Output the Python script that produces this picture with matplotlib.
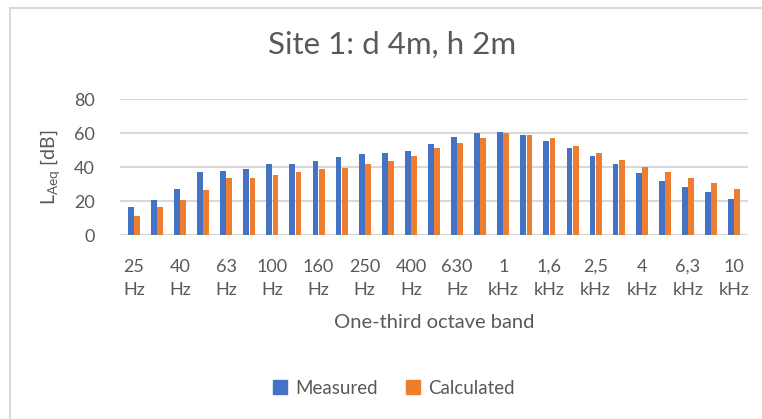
import matplotlib
matplotlib.use('Agg')
import matplotlib.pyplot as plt
import numpy as np
from matplotlib.lines import Line2D

plt.rcParams['font.family'] = ['Lato', 'DejaVu Sans']

# one-third octave bands 25 Hz .. 10 kHz
bands = ['25 Hz', '31,5 Hz', '40 Hz', '50 Hz', '63 Hz', '80 Hz', '100 Hz', '125 Hz',
         '160 Hz', '200 Hz', '250 Hz', '315 Hz', '400 Hz', '500 Hz', '630 Hz', '800 Hz',
         '1 kHz', '1,25 kHz', '1,6 kHz', '2 kHz', '2,5 kHz', '3,15 kHz', '4 kHz', '5 kHz',
         '6,3 kHz', '8 kHz', '10 kHz']
measured = [16.5, 20.8, 27.3, 36.8, 37.5, 38.9, 41.9, 41.9, 43.4, 45.8, 47.4, 48.4, 49.7,
            53.5, 57.4, 59.8, 60.5, 58.6, 55.2, 51.1, 46.4, 41.7, 36.4, 31.8, 28.1, 25.2, 21.0]
calculated = [11.0, 16.7, 20.4, 26.3, 33.4, 33.8, 35.0, 37.1, 38.7, 39.5, 41.5, 43.8, 46.4,
              51.1, 53.9, 56.8, 59.8, 58.8, 56.8, 52.3, 48.4, 44.2, 39.9, 37.1, 33.8, 30.3, 26.9]

blue = '#4472C4'
orange = '#ED7D31'
txt = '#595959'
grid = '#D9D9D9'

fig = plt.figure(figsize=(7.62, 4.19), dpi=100)
ax = fig.add_axes([120/762, 1-235/419, 628/762, 136/419])

x = np.arange(len(bands))
w = 0.25
ax.bar(x - w/2 - 0.01, measured, w, color=blue, zorder=3)
ax.bar(x + w/2 + 0.01, calculated, w, color=orange, zorder=3)

ax.set_xlim(-0.6, len(bands) - 0.4)
ax.set_ylim(0, 80)
ax.set_yticks([0, 20, 40, 60, 80])
ax.yaxis.grid(True, color=grid, linewidth=1.5, zorder=0)
for s in ax.spines.values():
    s.set_visible(False)
ax.axhline(0, color=grid, linewidth=1.5, zorder=1)
ax.tick_params(axis='both', length=0, labelsize=13, colors=txt)
ax.tick_params(axis='y', pad=18)

# label every other band, split value / unit on two lines
ticks = x[::2]
ax.set_xticks(ticks)
ax.set_xticklabels([b.replace(' ', '\n') for b in bands[::2]], linespacing=1.55)
ax.tick_params(axis='x', pad=17)

ax.set_xlabel('One-third octave band', fontsize=14.5, color=txt, labelpad=12)
ax.set_ylabel(r'$\mathregular{L_{Aeq}}$ [dB]', fontsize=14, color=txt)
ax.yaxis.set_label_coords(-58/628, 0.5)

fig.text(392/762, 1-45/419, 'Site 1: d 4m, h 2m', fontsize=22.5, color=txt,
         ha='center', va='center')

handles = [Line2D([], [], marker='s', linestyle='', markersize=10, color=blue),
           Line2D([], [], marker='s', linestyle='', markersize=10, color=orange)]
fig.legend(handles, ['Measured', 'Calculated'], loc='center', ncol=2,
           bbox_to_anchor=(388/762, 1-388/419), frameon=False, fontsize=13.5,
           labelcolor=txt, handletextpad=-0.2, columnspacing=0.9)

# chart area border (top and left visible)
fig.add_artist(Line2D([10/762, 1], [1-8.5/419, 1-8.5/419], color=grid, linewidth=1.5))
fig.add_artist(Line2D([10/762, 10/762], [0, 1-8.5/419], color=grid, linewidth=1.5))

fig.savefig('out.png', dpi=100)
